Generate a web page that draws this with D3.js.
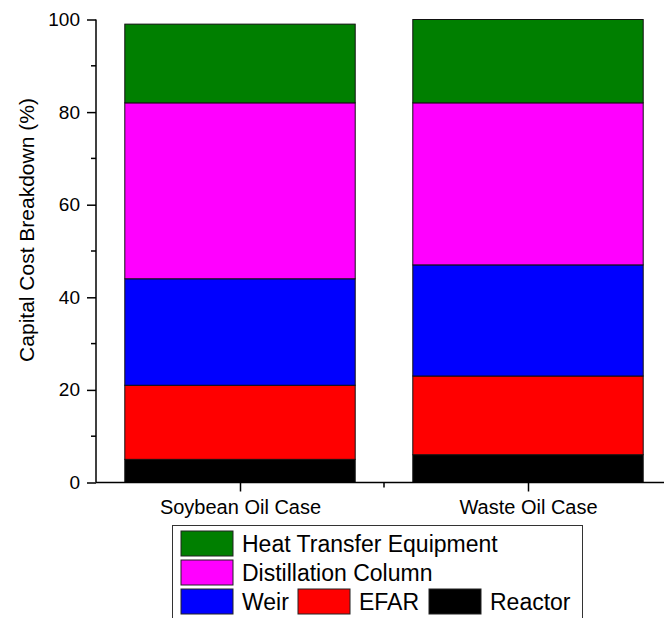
<!DOCTYPE html>
<html>
<head>
<meta charset="utf-8">
<script src="https://cdn.jsdelivr.net/npm/d3@7"></script>
<style>
  body { margin: 0; background: #fff; }
  text { font-family: "Liberation Sans", Arial, sans-serif; fill: #000; }
</style>
</head>
<body>
<div id="chart"></div>
<script>
// data (percent of capital cost)
const cases = ["Soybean Oil Case", "Waste Oil Case"];
const components = ["Reactor", "EFAR", "Weir", "Distillation Column", "Heat Transfer Equipment"];
const colors = ["#000000", "#ff0000", "#0000ff", "#ff00ff", "#007f00"];
const reactor = [5, 6];
const efar = [16, 17];
const weir = [23, 24];
const distillation = [38, 35];
const heatTransfer = [17, 18];
const yTicks = [0, 20, 40, 60, 80, 100];

const rows = cases.map((c, i) => ({
    case: c,
    "Reactor": reactor[i],
    "EFAR": efar[i],
    "Weir": weir[i],
    "Distillation Column": distillation[i],
    "Heat Transfer Equipment": heatTransfer[i]
}));

const width = 664, height = 618;
const margin = {top: 19.5, right: 0, bottom: 135.5, left: 96};

const svg = d3.select("#chart").append("svg")
    .attr("width", width)
    .attr("height", height);

// x as a linear "category index" axis, 0.5 .. 2.5 like the original plot
const x = d3.scaleLinear()
    .domain([0.5, 2.5])
    .range([margin.left, margin.left + 576]);

const y = d3.scaleLinear()
    .domain([0, 100])
    .range([height - margin.bottom, margin.top]);

const color = d3.scaleOrdinal().domain(components).range(colors);

const stacked = d3.stack().keys(components)(rows);
const barW = (x(2) - x(1)) * 0.8;

// bars
svg.append("g")
    .selectAll("g")
    .data(stacked)
    .join("g")
    .attr("fill", d => color(d.key))
    .selectAll("rect")
    .data(d => d)
    .join("rect")
    .attr("x", (d, i) => x(i + 1) - barW / 2)
    .attr("width", barW)
    .attr("y", d => y(d[1]))
    .attr("height", d => y(d[0]) - y(d[1]))
    .attr("stroke", "#111")
    .attr("stroke-width", 1);

// y axis
const yAxis = svg.append("g")
    .attr("transform", "translate(" + margin.left + ",0)")
    .call(d3.axisLeft(y).tickValues(yTicks).tickSize(9).tickPadding(7).tickFormat(d3.format("d")));
yAxis.select(".domain").attr("stroke-width", 1.5).attr("d", "M0," + y(0) + "V" + y(100));
yAxis.selectAll(".tick line").attr("stroke-width", 1.5);
yAxis.selectAll(".tick text").style("font-size", "19px").attr("font-family", null);

// y minor ticks
svg.append("g")
    .selectAll("line")
    .data(d3.range(10, 100, 20))
    .join("line")
    .attr("x1", margin.left - 5)
    .attr("x2", margin.left)
    .attr("y1", d => y(d))
    .attr("y2", d => y(d))
    .attr("stroke", "#000")
    .attr("stroke-width", 1.5);

// x axis
const xAxis = svg.append("g")
    .attr("transform", "translate(0," + y(0) + ")")
    .call(d3.axisBottom(x).tickValues([1, 2]).tickSize(9).tickPadding(8).tickFormat((d, i) => cases[i]));
xAxis.select(".domain").attr("stroke-width", 1.5).attr("d", "M" + margin.left + ",0H" + width);
xAxis.selectAll(".tick line").attr("stroke-width", 1.5);
xAxis.selectAll(".tick text").style("font-size", "20px").attr("font-family", null);

// x minor ticks
svg.append("g")
    .selectAll("line")
    .data([1.5, 2.5])
    .join("line")
    .attr("x1", d => x(d))
    .attr("x2", d => x(d))
    .attr("y1", y(0))
    .attr("y2", y(0) + 5)
    .attr("stroke", "#000")
    .attr("stroke-width", 1.5);

// y label
svg.append("text")
    .attr("transform", "translate(34,230) rotate(-90)")
    .attr("text-anchor", "middle")
    .style("font-size", "21px")
    .text("Capital Cost Breakdown (%)");

// legend
const legend = svg.append("g").attr("class", "legend");
legend.append("rect")
    .attr("x", 172.5).attr("y", 525.5)
    .attr("width", 410).attr("height", 100)
    .attr("fill", "#fff").attr("stroke", "#333").attr("stroke-width", 1);

const legendItems = [
    {key: "Heat Transfer Equipment", x: 181, row: 0},
    {key: "Distillation Column", x: 181, row: 1},
    {key: "Weir", x: 181, row: 2},
    {key: "EFAR", x: 298, row: 2},
    {key: "Reactor", x: 429, row: 2}
];

const item = legend.selectAll(".item")
    .data(legendItems)
    .join("g")
    .attr("class", "item")
    .attr("transform", d => "translate(" + d.x + "," + (531 + d.row * 29) + ")");

item.append("rect")
    .attr("width", 52).attr("height", 25)
    .attr("fill", d => color(d.key))
    .attr("stroke", "#222").attr("stroke-width", 1);

item.append("text")
    .attr("x", 61).attr("y", 21)
    .style("font-size", "23px")
    .text(d => d.key);
</script>
</body>
</html>
